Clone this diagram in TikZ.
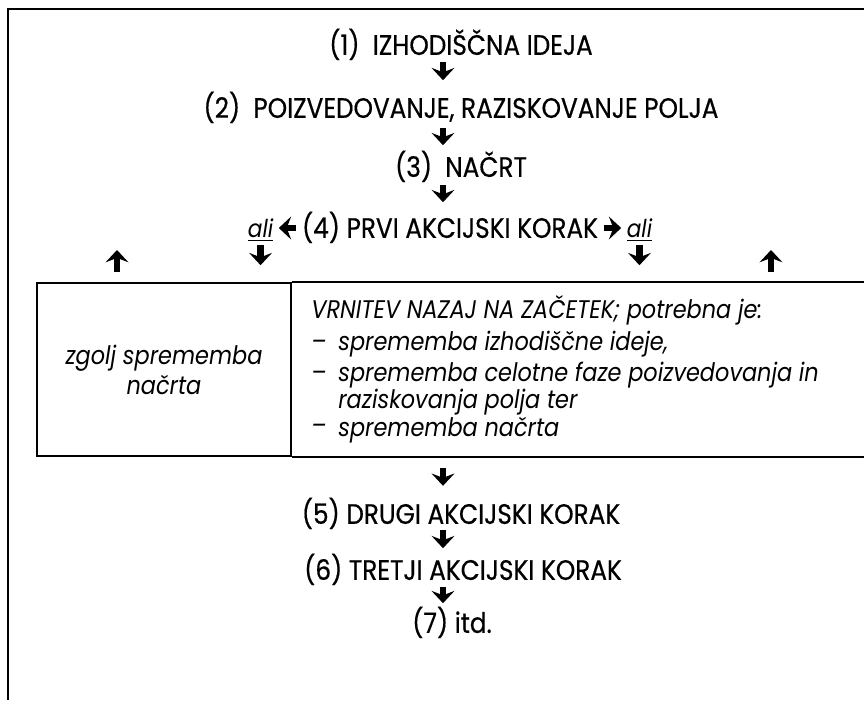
\documentclass[tikz,border=0pt]{standalone}
\usepackage{fontspec}
\setmainfont{Poppins}[FakeStretch=0.88]
\newfontfamily\stagefont{Poppins}[FakeStretch=0.88, FakeBold=0.5]
\usetikzlibrary{arrows.meta,positioning}

\begin{document}
\begin{tikzpicture}[x=0.02cm, y=-0.02cm,
      stage/.style={font=\stagefont\fontsize{16}{18}\selectfont, inner sep=0pt, text height=11.2pt, text depth=0pt},
      alt/.style={font=\itshape\fontsize{14}{15}\selectfont, inner sep=0pt, text height=11.2pt, text depth=0pt},
      cell/.style={font=\itshape\fontsize{14.5}{17}\selectfont},
      item/.style={cell, anchor=west, inner sep=0pt, text height=9pt, text depth=0pt},
      arr/.style={line width=3.8pt, -{Stealth[length=7pt, width=13pt, inset=2.5pt]}},
      frame/.style={line width=1.1pt},
      box/.style={line width=0.9pt}
    ]
    \useasboundingbox (0,0) rectangle (864,700);
    \draw[frame] (864,9) -- (8,9) -- (8,700);
    \coordinate (ax) at (443,0);
    \coordinate (rEdge) at (864,0);
    \node[stage] (t1) at (461,45) {(1)\ \ IZHODIŠČNA IDEJA};
    \node[stage] (t2) at (461,108) {(2)\ \ POIZVEDOVANJE, RAZISKOVANJE POLJA};
    \node[stage] (t3) at (461,167) {(3)\ \ NAČRT};
    \node[stage] (t4) at (450,228) {(4) PRVI AKCIJSKI KORAK};
    \node[alt, left=16pt of t4] (aliL) {\underline{ali}};
    \node[alt, right=16pt of t4] (aliR) {\underline{ali}};
    \draw[arr] (t1.south -| ax) ++(0,7) -- ++(0,18);
    \draw[arr] (t2.south -| ax) ++(0,10) -- ++(0,17);
    \draw[arr] (t3.south -| ax) ++(0,8) -- ++(0,17);
    \draw[arr, shorten <=3pt, shorten >=3pt] (t4) -- (aliL);
    \draw[arr, shorten <=3pt, shorten >=3pt] (t4) -- (aliR);
    \draw[arr] (aliL.south) ++(0,7) -- ++(0,20);
    \draw[arr] (aliR.south) ++(0,7) -- ++(0,20);
    % box with the two choices
    \node[draw, box, cell, align=center, minimum width=5.08cm, minimum height=3.46cm] (cellL) at (164,369.5) {zgolj sprememba\\načrta};
    \draw[box] (cellL.north east) -- (cellL.north east -| rEdge);
    \draw[box] (cellL.south east) -- (cellL.south east -| rEdge);
    \node[item] (v0) at (311,311) {VRNITEV NAZAJ NA ZAČETEK; potrebna je:};
    \node[item] (d1) at (311,343) {--};
    \node[item] (s1) at (338,343) {sprememba izhodiščne ideje,};
    \node[item] (d2) at (311,374) {--};
    \node[item] (s2) at (338,374) {sprememba celotne faze poizvedovanja in};
    \node[item] (s3) at (338,401) {raziskovanja polja ter};
    \node[item] (d4) at (311,427) {--};
    \node[item] (s4) at (338,429) {sprememba načrta};
    \coordinate (upL) at (117,283);
    \coordinate (upR) at (771,283);
    \draw[arr] (upL) ++(0,-11) -- ++(0,-22);
    \draw[arr] (upR) ++(0,-11) -- ++(0,-22);
    \node[stage] (t5) at (461,514) {(5) DRUGI AKCIJSKI KORAK};
    \node[stage] (t6) at (463,570) {(6) TRETJI AKCIJSKI KORAK};
    \node[stage] (t7) at (452,623) {(7) itd.};
    \draw[arr] (cellL.south -| ax) ++(0,11) -- ++(0,18);
    \draw[arr] (t5.south -| ax) ++(0,6) -- ++(0,18);
    \draw[arr] (t6.south -| ax) ++(0,7) -- ++(0,16);
  \end{tikzpicture}
\end{document}
